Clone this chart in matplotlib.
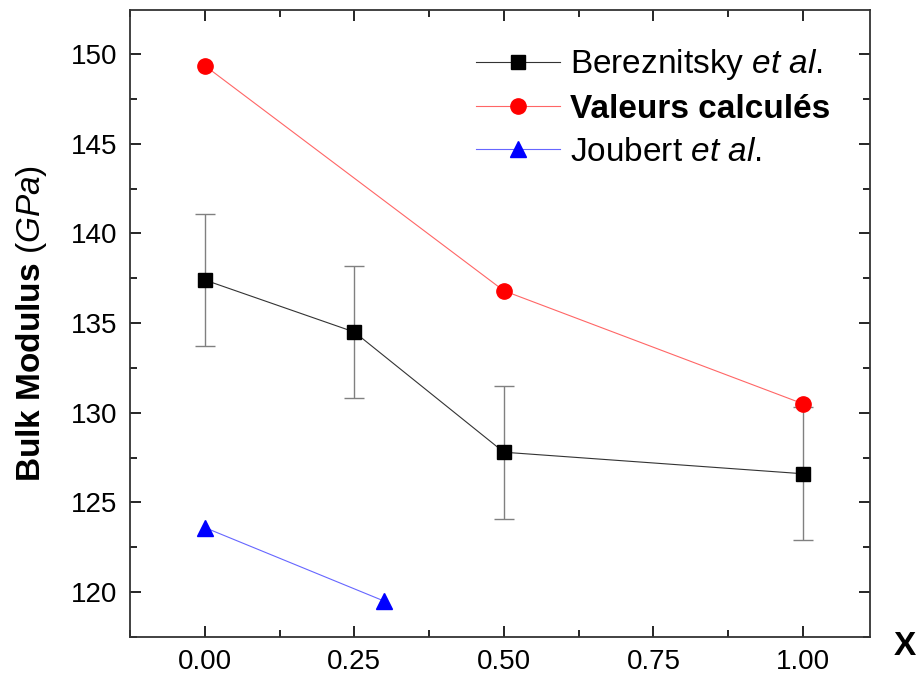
import matplotlib
matplotlib.use("Agg")
import matplotlib.pyplot as plt
from matplotlib.ticker import MultipleLocator

plt.rcParams['font.family'] = ['Liberation Sans', 'DejaVu Sans']
plt.rcParams['mathtext.fontset'] = 'custom'
plt.rcParams['mathtext.rm'] = 'Liberation Sans'
plt.rcParams['mathtext.it'] = 'Liberation Sans:italic'
plt.rcParams['mathtext.bf'] = 'Liberation Sans:bold'

# Bereznitsky et al. (with error bars)
x_bere = [0.0, 0.25, 0.5, 1.0]
k_bere = [137.4, 134.5, 127.8, 126.6]
err_bere = [3.7, 3.7, 3.7, 3.7]

# calculated values
x_calc = [0.0, 0.5, 1.0]
k_calc = [149.35, 136.8, 130.5]

# Joubert et al.
x_joub = [0.0, 0.3]
k_joub = [123.6, 119.5]

fig = plt.figure(figsize=(9.18, 6.77), dpi=100)
ax = fig.add_axes([0.1416, 0.0591, 0.8061, 0.9261])

ax.errorbar(x_bere, k_bere, yerr=err_bere, fmt='none', ecolor='#808080',
            elinewidth=1.0, capsize=7, capthick=1.0, zorder=2)
ax.plot(x_bere, k_bere, color='#333333', lw=0.8, marker='s', ms=10,
        mfc='black', mec='black', label=r'Bereznitsky $\it{et\ al.}$', zorder=3)
ax.plot(x_calc, k_calc, color='#ff6666', lw=0.8, marker='o', ms=11,
        mfc='red', mec='red', label='Valeurs calculés', zorder=4)
ax.plot(x_joub, k_joub, color='#6666ff', lw=0.8, marker='^', ms=11,
        mfc='blue', mec='blue', label=r'Joubert $\it{et\ al.}$', zorder=4)

ax.set_xlim(-0.125, 1.112)
ax.set_ylim(117.5, 152.45)
ax.xaxis.set_major_locator(MultipleLocator(0.25))
ax.xaxis.set_minor_locator(MultipleLocator(0.125))
ax.yaxis.set_major_locator(MultipleLocator(5))
ax.yaxis.set_minor_locator(MultipleLocator(2.5))
ax.xaxis.set_major_formatter(matplotlib.ticker.FormatStrFormatter('%.2f'))

ax.tick_params(which='both', direction='in', top=True, right=True,
               labelsize=20, width=1.2)
ax.tick_params(which='major', length=8, pad=9)
ax.tick_params(which='minor', length=5)
for s in ax.spines.values():
    s.set_linewidth(1.3)
    s.set_color('#333333')

ax.set_ylabel(r'$\bf{Bulk\ Modulus}$ ($\it{GPa}$)', fontsize=24, labelpad=16)
fig.text(0.986, 0.022, 'X', fontsize=24, fontweight='bold', ha='center', va='bottom')

leg = ax.legend(loc='upper right', frameon=False, fontsize=24, handlelength=2.5,
                handletextpad=0.3, labelspacing=0.35, borderaxespad=0,
                bbox_to_anchor=(0.964, 0.962))
leg.get_texts()[1].set_fontweight('bold')

fig.savefig('out.png', dpi=100)
